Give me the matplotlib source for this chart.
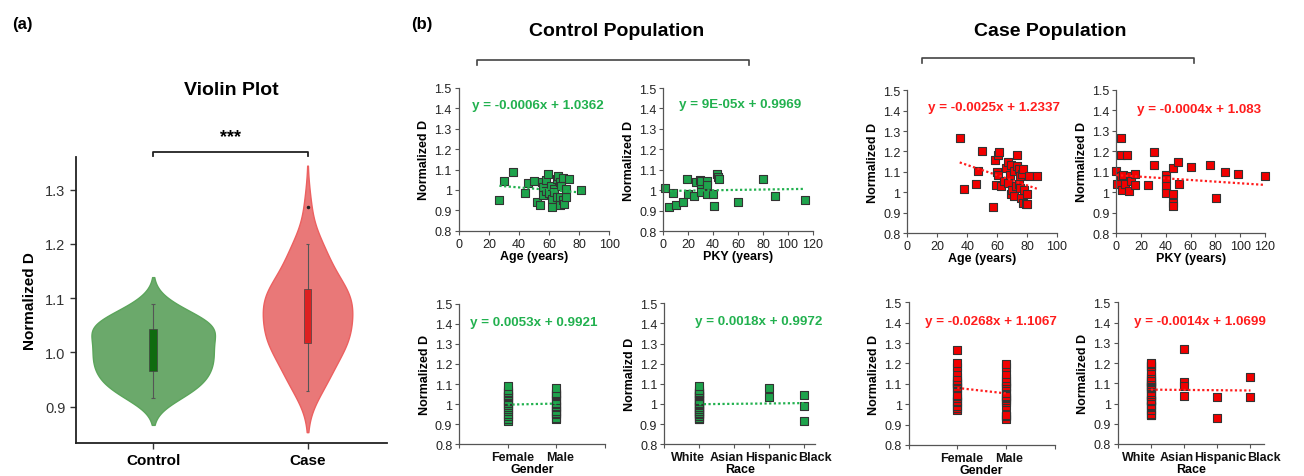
import numpy as np
import matplotlib
matplotlib.use("Agg")
import matplotlib.pyplot as plt
from matplotlib.patches import Rectangle
from matplotlib.lines import Line2D

plt.rcParams['font.family'] = ['Liberation Sans', 'DejaVu Sans']

# ---- data ----
# control population
ctrl_age = [27, 30, 36, 44, 46, 50, 52, 54, 55, 56, 56, 58, 58, 59, 60, 61, 62, 62,
            63, 63, 65, 65, 66, 67, 67, 67, 68, 69, 69, 70, 71, 71, 73, 81]
ctrl_age_d = [0.95, 1.045, 1.09, 0.985, 1.035, 1.045, 0.94, 0.925, 1.04, 1.015, 0.975,
              0.995, 1.05, 1.08, 0.985, 1.02, 0.955, 0.915, 1.005, 0.99, 1.055, 0.965,
              1.07, 0.925, 1.04, 0.965, 1.02, 1.06, 0.95, 0.93, 0.965, 1.005, 1.055, 1.0]
ctrl_pky = [1.6, 4.6, 7.8, 10.4, 15.5, 19.3, 19.8, 24.6, 26.3, 29.5, 30, 30, 30, 30,
            34.8, 35, 35, 40, 40.4, 42.9, 44, 44.7, 60, 80, 89.5, 113.6]
ctrl_pky_d = [1.01, 0.919, 0.987, 0.929, 0.945, 1.054, 0.984, 0.973, 1.04, 1.05, 1.03,
              1.015, 0.994, 1.045, 1.046, 1.025, 0.982, 0.984, 0.922, 1.078, 1.067,
              1.054, 0.945, 1.055, 0.97, 0.953]
ctrl_female_d = [0.915, 0.925, 0.94, 0.95, 0.965, 0.975, 0.985, 0.995, 1.005, 1.015,
                 1.02, 1.035, 1.04, 1.045, 1.055, 1.06, 1.07, 1.09]
ctrl_male_d = [0.925, 0.93, 0.95, 0.955, 0.965, 0.965, 0.985, 0.99, 1.0, 1.005, 1.02,
               1.04, 1.045, 1.05, 1.055, 1.08]
ctrl_white_d = [0.925, 0.925, 0.93, 0.94, 0.95, 0.95, 0.955, 0.965, 0.965, 0.965, 0.975,
                0.985, 0.985, 0.995, 1.0, 1.005, 1.005, 1.015, 1.02, 1.02, 1.04, 1.04,
                1.045, 1.05, 1.055, 1.055, 1.06, 1.07, 1.09]
ctrl_asian_d = []
ctrl_hisp_d = [1.035, 1.08]
ctrl_black_d = [0.915, 0.99, 1.045]

# case population
case_age = [35, 38, 46, 47, 50, 57.5, 58.5, 59, 60, 60.5, 60.5, 61, 62.5, 64.5, 66, 67,
            67.5, 68.5, 69.5, 69.5, 70, 71, 71.5, 72.5, 73, 73, 74.5, 74.5, 75, 75.5,
            76, 76.5, 77, 77.5, 78, 79, 80, 80, 81.5, 86.5]
case_age_d = [1.268, 1.018, 1.039, 1.106, 1.2, 0.929, 1.16, 1.036, 1.098, 1.085, 1.184,
              1.197, 1.032, 1.057, 1.12, 1.15, 1.045, 1.085, 0.99, 1.133, 1.012, 0.982,
              1.106, 1.032, 1.13, 1.183, 1.039, 1.112, 1.019, 1.078, 0.97, 1.088, 1.115,
              0.947, 1.01, 0.944, 0.993, 0.944, 1.081, 1.078]
case_pky = [0, 0.3, 3.8, 3.8, 3.8, 4.6, 5.1, 7.3, 8.3, 10.2, 11, 11.8, 14.8, 15.3, 25.3,
            30.4, 30.4, 40.4, 40.4, 40.4, 40.4, 45.5, 45.5, 45.5, 45.5, 50, 50.3, 60.3,
            75.3, 80.2, 88, 98.2, 120.3]
case_pky_d = [1.104, 1.039, 1.264, 1.181, 1.077, 1.012, 1.083, 1.039, 1.181, 1.007, 1.08,
              1.056, 1.087, 1.034, 1.034, 1.197, 1.134, 1.083, 1.064, 1.031, 0.994, 1.117,
              0.989, 0.945, 0.93, 1.148, 1.041, 1.122, 1.13, 0.973, 1.098, 1.087, 1.077]
case_female_d = [0.97, 0.982, 0.993, 1.01, 1.018, 1.032, 1.039, 1.045, 1.078, 1.081,
                 1.085, 1.098, 1.106, 1.115, 1.12, 1.133, 1.16, 1.184, 1.2, 1.268]
case_male_d = [0.929, 0.944, 0.944, 0.947, 0.99, 1.012, 1.019, 1.032, 1.036, 1.039, 1.057,
               1.078, 1.085, 1.088, 1.106, 1.112, 1.13, 1.15, 1.183, 1.197]
case_white_d = [0.944, 0.944, 0.947, 0.97, 0.982, 0.99, 0.993, 1.01, 1.012, 1.018, 1.019,
                1.036, 1.039, 1.045, 1.057, 1.078, 1.078, 1.081, 1.085, 1.088, 1.098,
                1.106, 1.112, 1.115, 1.12, 1.13, 1.15, 1.16, 1.183, 1.184, 1.197, 1.2]
case_asian_d = [1.268, 1.106, 1.085, 1.039]
case_hisp_d = [1.032, 0.929]
case_black_d = [1.133, 1.032]

gender_cats = ['Female', 'Male']
race_cats = ['White', 'Asian', 'Hispanic', 'Black']

# trendline coefficients (slope, intercept) as printed
fits = {
    'ctrl_age': (-0.0006, 1.0362), 'ctrl_pky': (9e-05, 0.9969),
    'ctrl_gender': (0.0053, 0.9921), 'ctrl_race': (0.0018, 0.9972),
    'case_age': (-0.0025, 1.2337), 'case_pky': (-0.0004, 1.083),
    'case_gender': (-0.0268, 1.1067), 'case_race': (-0.0014, 1.0699),
}
eq_text = {
    'ctrl_age': 'y = -0.0006x + 1.0362', 'ctrl_pky': 'y = 9E-05x + 0.9969',
    'ctrl_gender': 'y = 0.0053x + 0.9921', 'ctrl_race': 'y = 0.0018x + 0.9972',
    'case_age': 'y = -0.0025x + 1.2337', 'case_pky': 'y = -0.0004x + 1.083',
    'case_gender': 'y = -0.0268x + 1.1067', 'case_race': 'y = -0.0014x + 1.0699',
}

GREEN = '#1ea34c'
GREEN_TXT = '#22b14f'
RED = '#f20000'
RED_TXT = '#ff1c1c'

W, H = 1304, 477
fig = plt.figure(figsize=(W / 100, H / 100), dpi=100)


def fx(x):
    return x / W


def fy(y):
    return 1 - y / H


# ---------------- (a) violin plot ----------------
ax = fig.add_axes([0.0583, 0.0692, 0.2385, 0.5996])


def kde(vals, grid):
    v = np.asarray(vals)
    bw = v.std(ddof=1) * len(v) ** (-1 / 5)
    d = np.exp(-0.5 * ((grid[:, None] - v[None, :]) / bw) ** 2).sum(1)
    return d / (len(v) * bw * np.sqrt(2 * np.pi)), bw


groups = [ctrl_age_d, case_age_d]
half_w = [0.40, 0.29]
fills = ['#6ba96b', '#e97878']
edges = ['#5ba55b', '#ec6060']
boxc = ['#0f6b0f', '#dd2020']
for i, vals in enumerate(groups):
    v = np.asarray(vals)
    _, bw = kde(v, np.array([v.mean()]))
    grid = np.linspace(v.min() - 2 * bw, v.max() + 2 * bw, 300)
    dens, _ = kde(v, grid)
    w = dens / dens.max() * half_w[i]
    ax.fill_betweenx(grid, i - w, i + w, facecolor=fills[i], edgecolor=edges[i],
                     lw=1.0, zorder=1)
    q1, q3 = np.percentile(v, [25, 75])
    iqr = q3 - q1
    lo = v[v >= q1 - 1.5 * iqr].min()
    hi = v[v <= q3 + 1.5 * iqr].max()
    ax.vlines(i, lo, hi, color='#555555', lw=0.8, zorder=2)
    ax.hlines([lo, hi], i - 0.012, i + 0.012, color='#555555', lw=0.8, zorder=2)
    ax.add_patch(Rectangle((i - 0.025, q1), 0.05, q3 - q1, facecolor=boxc[i],
                           edgecolor='#444444', lw=0.5, zorder=3))
    out = v[(v > hi) | (v < lo)]
    ax.plot(np.full(len(out), i), out, 'o', ms=1.5, color='#222222', zorder=4)

ax.set_xlim(-0.5, 1.515)
ax.set_ylim(0.833, 1.36)
ax.set_yticks([0.9, 1.0, 1.1, 1.2, 1.3])
ax.set_yticklabels(['0.9', '1.0', '1.1', '1.2', '1.3'], fontsize=10.5, color='#333333')
ax.set_xticks([0, 1])
ax.set_xticklabels(['Control', 'Case'], fontsize=11, fontweight='bold')
ax.set_ylabel('Normalized D', fontsize=11, fontweight='bold', labelpad=6)
for s in ['top', 'right']:
    ax.spines[s].set_visible(False)
for s in ['left', 'bottom']:
    ax.spines[s].set_linewidth(1.3)
    ax.spines[s].set_color('#222222')
ax.tick_params(length=4, width=1.0, color='#333333')
ax.set_title('Violin Plot', fontsize=14, fontweight='bold', pad=45)
# significance bracket
ax.plot([0, 0, 1, 1], [1.362, 1.369, 1.369, 1.362], color='#222222', lw=1.3,
        clip_on=False)
ax.text(0.5, 1.398, '***', ha='center', va='center', fontsize=13, fontweight='bold')

# ---------------- (b) scatter panels ----------------


def panel(rect, key, xs, ys, color, txt_color, xlim, xticks, xticklabels, xlabel,
          ylabel, eq_xy, label_pos=None):
    a = fig.add_axes(rect)
    a.scatter(xs, ys, marker='s', s=36, facecolor=color, edgecolor='#333333',
              linewidth=0.8, zorder=2, clip_on=False)
    m, b = fits[key]
    xr = np.array([min(xs), max(xs)])
    a.plot(xr, m * xr + b, color=txt_color, lw=1.6, ls=(0, (1, 1.1)), zorder=3)
    a.set_xlim(*xlim)
    a.set_ylim(0.8, 1.5)
    yt = [0.8, 0.9, 1.0, 1.1, 1.2, 1.3, 1.4, 1.5]
    a.set_yticks(yt)
    a.set_yticklabels([f'{v:g}' for v in yt], fontsize=9, color='#222222')
    a.set_xticks(xticks)
    if label_pos is not None:
        # category names sit on minor ticks of zero length
        a.set_xticklabels([])
        a.set_xticks(label_pos, minor=True)
        a.set_xticklabels(xticklabels, minor=True, fontsize=9, fontweight='bold',
                          color='#111111')
        a.tick_params(axis='x', which='minor', length=0, pad=5)
        a.set_xlabel(xlabel, fontsize=9, fontweight='bold', labelpad=0)
    else:
        a.set_xticklabels(xticklabels, fontsize=9, color='#222222')
        a.set_xlabel(xlabel, fontsize=9, fontweight='bold', labelpad=0)
    a.set_ylabel(ylabel, fontsize=9, fontweight='bold', labelpad=3)
    for s in ['top', 'right']:
        a.spines[s].set_visible(False)
    for s in ['left', 'bottom']:
        a.spines[s].set_color('#555555')
        a.spines[s].set_linewidth(0.9)
    a.tick_params(which='major', length=3, width=0.8, color='#555555', pad=2)
    a.text(eq_xy[0], eq_xy[1], eq_text[key], transform=a.transAxes, ha='center',
           va='center', fontsize=9.6, fontweight='bold', color=txt_color)
    return a


age_ticks = [0, 20, 40, 60, 80, 100]
pky_ticks = [0, 20, 40, 60, 80, 100, 120]


def cat_xy(lists):
    xs, ys = [], []
    for k, vals in enumerate(lists):
        xs += [k + 1] * len(vals)
        ys += list(vals)
    return xs, ys


# control, top row
panel([0.3518, 0.5143, 0.1155, 0.2992], 'ctrl_age', ctrl_age, ctrl_age_d, GREEN, GREEN_TXT,
      (0, 100), age_ticks, [str(t) for t in age_ticks], 'Age (years)', 'Normalized D',
      (0.527, 0.881))
panel([0.5087, 0.5130, 0.1146, 0.3004], 'ctrl_pky', ctrl_pky, ctrl_pky_d, GREEN, GREEN_TXT,
      (0, 120), pky_ticks, [str(t) for t in pky_ticks], 'PKY (years)', 'Normalized D',
      (0.513, 0.888))
# case, top row
panel([0.6958, 0.5094, 0.1148, 0.2992], 'case_age', case_age, case_age_d, RED, RED_TXT,
      (0, 100), age_ticks, [str(t) for t in age_ticks], 'Age (years)', 'Normalized D',
      (0.581, 0.881))
panel([0.8561, 0.5094, 0.1140, 0.3004], 'case_pky', case_pky, case_pky_d, RED, RED_TXT,
      (0, 120), pky_ticks, [str(t) for t in pky_ticks], 'PKY (years)', 'Normalized D',
      (0.556, 0.865))

# bottom row
gx, gy = cat_xy([ctrl_female_d, ctrl_male_d])
panel([0.3522, 0.0665, 0.1116, 0.2948], 'ctrl_gender', gx, gy, GREEN, GREEN_TXT,
      (0, 3), [0, 1, 2, 3], gender_cats, 'Gender', 'Normalized D',
      (0.513, 0.868), label_pos=[1.09, 2.07])
rx, ry = cat_xy([ctrl_white_d, ctrl_asian_d, ctrl_hisp_d, ctrl_black_d])
panel([0.5094, 0.0665, 0.1158, 0.2956], 'ctrl_race', rx, ry, GREEN, GREEN_TXT,
      (0, 4.15), [0, 1, 2, 3, 4], race_cats, 'Race', 'Normalizd D',
      (0.625, 0.872), label_pos=[0.68, 1.78, 3.06, 4.33])
gx, gy = cat_xy([case_female_d, case_male_d])
panel([0.6968, 0.0650, 0.1120, 0.2992], 'case_gender', gx, gy, RED, RED_TXT,
      (0, 3), [0, 1, 2, 3], gender_cats, 'Gender', 'Normalized D',
      (0.564, 0.869), label_pos=[1.09, 2.07])
rx, ry = cat_xy([case_white_d, case_asian_d, case_hisp_d, case_black_d])
panel([0.8571, 0.0671, 0.1123, 0.2971], 'case_race', rx, ry, RED, RED_TXT,
      (0, 4.1), [0, 1, 2, 3, 4], race_cats, 'Race', 'Normalized D',
      (0.562, 0.868), label_pos=[0.65, 1.77, 3.09, 4.41])

# headers and brackets
fig.text(fx(22), fy(25), '(a)', fontsize=12, fontweight='bold', ha='center', va='center')
fig.text(fx(422), fy(25), '(b)', fontsize=12, fontweight='bold', ha='center', va='center')
fig.text(fx(617), fy(32), 'Control Population', fontsize=14, fontweight='bold',
         ha='center', va='center')
fig.text(fx(1050), fy(32), 'Case Population', fontsize=14, fontweight='bold',
         ha='center', va='center')
for x0, x1, yb in [(477, 749, 60.5), (922, 1194, 59)]:
    fig.add_artist(Line2D([fx(x0), fx(x0), fx(x1), fx(x1)],
                          [fy(yb + 5), fy(yb), fy(yb), fy(yb + 5)],
                          transform=fig.transFigure, color='#444444', lw=1.2))

fig.savefig('out.png', dpi=100)
